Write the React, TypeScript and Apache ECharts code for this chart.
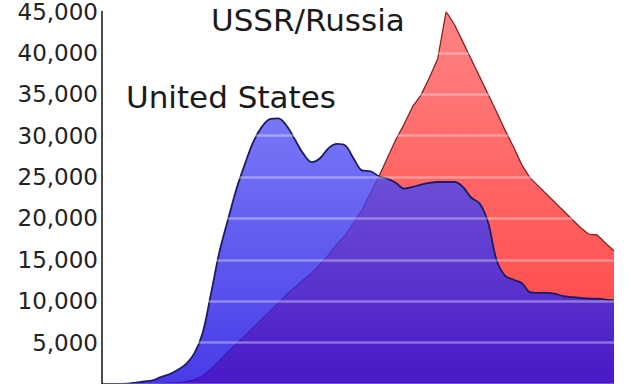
import React, { useEffect, useRef } from "react";
import * as echarts from "echarts";

const years = [
  1945, 1946, 1947, 1948, 1949, 1950, 1951, 1952, 1953, 1954,
  1955, 1956, 1957, 1958, 1959, 1960, 1961, 1962, 1963, 1964,
  1965, 1966, 1967, 1968, 1969, 1970, 1971, 1972, 1973, 1974,
  1975, 1976, 1977, 1978, 1979, 1980, 1981, 1982, 1983, 1984,
  1985, 1986, 1987, 1988, 1989, 1990, 1991, 1992, 1993, 1994,
  1995, 1996, 1997, 1998, 1999, 2000, 2001, 2002, 2003, 2004,
  2005, 2006,
];

const usStockpile = [
  0, 0, 0, 50, 170, 300, 440, 840, 1170, 1700,
  2400, 3700, 6200, 11000, 16000, 19800, 23500, 26500, 29200, 31000,
  32000, 32100, 31200, 29500, 27800, 26800, 27300, 28500, 29000, 28800,
  27200, 25800, 25700, 25100, 24800, 24300, 23600, 23800, 24100, 24300,
  24400, 24400, 24400, 23800, 22500, 21800, 19500, 15000, 13100, 12600,
  12200, 11100, 11000, 11000, 10900, 10600, 10500, 10400, 10300, 10300,
  10200, 10100,
];

const ussrStockpile = [
  0, 0, 0, 0, 1, 5, 25, 50, 120, 150,
  250, 500, 1000, 1800, 2800, 3900, 4800, 5800, 6800, 7800,
  8800, 9800, 10800, 11700, 12600, 13400, 14500, 15600, 16900, 18000,
  19500, 21100, 23100, 25100, 27300, 29500, 31400, 33500, 34900, 37000,
  39300, 45000, 43400, 41300, 39200, 37100, 35000, 32900, 30700, 28700,
  26500, 24900, 23900, 22900, 21900, 20900, 19900, 18900, 18100, 18000,
  17000, 16100,
];

const yMin = 0;
const yMax = 45000;
const yInterval = 5000;

const usLabel = "United States";
const ussrLabel = "USSR/Russia";

export default function App() {
  const ref = useRef<HTMLDivElement>(null);

  useEffect(() => {
    if (!ref.current) return;
    const chart = echarts.init(ref.current, null, { renderer: "svg" });
    const usData = years.map((y, i) => [y, usStockpile[i]]);
    const ussrData = years.map((y, i) => [y, ussrStockpile[i]]);

    chart.setOption({
      animation: false,
      backgroundColor: "#ffffff",
      grid: { left: 102, right: 26, top: 10, bottom: -7 },
      xAxis: {
        type: "value",
        min: years[0],
        max: years[years.length - 1],
        show: false,
      },
      yAxis: {
        type: "value",
        min: yMin,
        max: yMax,
        interval: yInterval,
        z: 10,
        axisLine: { show: true, lineStyle: { color: "#111111", width: 1.5 } },
        axisTick: { show: false },
        axisLabel: {
          color: "#222222",
          fontSize: 23,
          fontFamily: "DejaVu Sans",
          margin: 4,
          formatter: (v: number) => (v === 0 ? "" : v.toLocaleString("en-US")),
        },
        splitLine: {
          show: true,
          lineStyle: { color: "rgba(255,255,255,0.35)", width: 2.5 },
        },
      },
      series: [
        {
          name: ussrLabel,
          type: "line",
          data: ussrData,
          showSymbol: false,
          smooth: false,
          z: 2,
          lineStyle: { color: "#8a2222", width: 1.3 },
          areaStyle: {
            opacity: 1,
            color: new echarts.graphic.LinearGradient(0, 0, 0, 1, [
              { offset: 0, color: "#ff8484" },
              { offset: 1, color: "#ff4040" },
            ]),
          },
        },
        {
          name: usLabel,
          type: "line",
          data: usData,
          showSymbol: false,
          smooth: 0.35,
          z: 3,
          lineStyle: { color: "#1c1c66", width: 1.8 },
          areaStyle: {
            opacity: 1,
            color: new echarts.graphic.LinearGradient(0, 0, 0, 1, [
              { offset: 0, color: "rgba(90,90,244,0.82)" },
              { offset: 1, color: "rgba(32,16,226,0.82)" },
            ]),
          },
        },
      ],
      graphic: [
        {
          type: "text",
          x: 211,
          y: 20,
          z: 20,
          style: {
            text: ussrLabel,
            font: '31px "DejaVu Sans"',
            fill: "#1a1a1a",
            align: "left",
            verticalAlign: "middle",
          },
        },
        {
          type: "text",
          x: 126,
          y: 97,
          z: 20,
          style: {
            text: usLabel,
            font: '31px "DejaVu Sans"',
            fill: "#1a1a1a",
            align: "left",
            verticalAlign: "middle",
          },
        },
      ],
    });

    return () => chart.dispose();
  }, []);

  return (
    <div
      ref={ref}
      style={{ position: "fixed", left: 0, top: 0, width: 640, height: 384 }}
    />
  );
}
